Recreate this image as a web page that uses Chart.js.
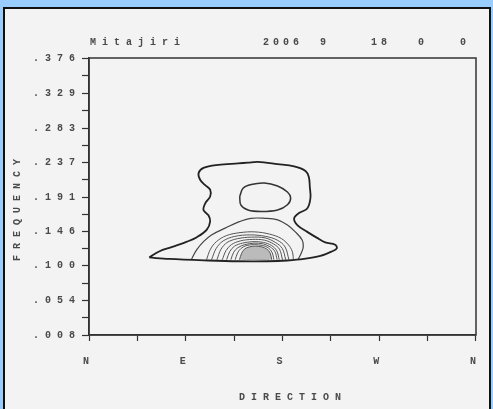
<!DOCTYPE html>
<html>
<head>
<meta charset="utf-8">
<script src="https://cdn.jsdelivr.net/npm/chart.js@4.4.1/dist/chart.umd.min.js"></script>
<style>
  html, body { margin: 0; padding: 0; background: #99ccff; }
  body { width: 493px; height: 409px; position: relative; overflow: hidden; }
  #panel { position: absolute; left: 3px; top: 7px; width: 484px; height: 410px; border: 2px solid #111; background: #f3f3f3; }
  #chart { position: absolute; left: 0; top: 0; }
</style>
</head>
<body>
<div id="panel"></div>
<canvas id="chart" width="493" height="409"></canvas>
<script>
// header text (station, year month day hour minute)
const headerTexts = ['Mitajiri', '2006', '9', '18', '0', '0'];

// direction axis (degrees)
const xMajor = [0, 90, 180, 270, 360];
const xLabels = ['N', 'E', 'S', 'W', 'N'];

// frequency axis
const yMajor = [0.008, 0.054, 0.100, 0.146, 0.191, 0.237, 0.283, 0.329, 0.376];
const yMinor = [0.031, 0.077, 0.123, 0.1685, 0.214, 0.260, 0.306, 0.3525];
const yLabels = ['.008', '.054', '.100', '.146', '.191', '.237', '.283', '.329', '.376'];

// contour lines [direction, frequency]
const contourOuter = [[56.0,0.111],[65.2,0.119],[77.4,0.125],[91.2,0.132],[100.4,0.138],[109.6,0.148],[112.7,0.159],[111.1,0.167],[106.5,0.174],[108.1,0.183],[112.7,0.192],[112.7,0.201],[108.1,0.207],[103.5,0.214],[101.9,0.223],[106.5,0.230],[120.3,0.234],[138.7,0.236],[147.9,0.237],[157.0,0.238],[175.4,0.235],[190.8,0.232],[201.4,0.226],[204.5,0.218],[205.4,0.205],[206.0,0.190],[203.0,0.176],[195.3,0.170],[190.8,0.163],[193.8,0.154],[203.0,0.145],[212.2,0.137],[219.8,0.131],[229.0,0.128],[230.5,0.123],[225.9,0.119],[215.2,0.113],[199.9,0.109],[184.6,0.107],[166.2,0.106],[138.7,0.106],[111.1,0.107],[74.4,0.109],[56.0,0.111]];
const contourIsland = [[140.2,0.192],[143.3,0.203],[150.9,0.208],[163.2,0.210],[175.4,0.206],[184.6,0.198],[187.6,0.190],[184.6,0.181],[175.4,0.174],[160.1,0.172],[147.9,0.174],[141.2,0.181],[140.2,0.192]];
const contour3 = [[95.5,0.109],[100.1,0.121],[106.5,0.132],[113.9,0.141],[126.7,0.150],[138.7,0.158],[150.6,0.163],[163.5,0.163],[175.4,0.161],[184.6,0.154],[191.9,0.145],[198.4,0.134],[199.3,0.125],[197.5,0.117],[194.7,0.109]];
const contour4 = [[109.3,0.108],[113.0,0.122],[118.5,0.132],[127.7,0.140],[140.5,0.144],[154.3,0.145],[168.1,0.142],[179.1,0.136],[186.5,0.126],[189.5,0.117],[190.0,0.108]];
const contour5 = [[114,0.108],[118.3,0.123],[124.8,0.133],[135.6,0.139],[150,0.141],[164.4,0.139],[175.2,0.134],[182.4,0.125],[186,0.108]];
const contour6 = [[119,0.108],[122.8,0.122],[128.6,0.131],[138.2,0.136],[151,0.138],[163.8,0.137],[173.4,0.131],[179.8,0.123],[183,0.108]];
const contour7 = [[124,0.108],[127.4,0.120],[132.4,0.128],[140.8,0.133],[152,0.135],[163.2,0.134],[171.6,0.129],[177.2,0.122],[180,0.108]];
const contour8 = [[128,0.108],[131,0.119],[135.4,0.126],[142.7,0.130],[152.5,0.132],[162.3,0.131],[169.7,0.127],[174.6,0.120],[177,0.108]];
const contour9 = [[132,0.108],[134.6,0.118],[138.5,0.124],[144.9,0.128],[153.5,0.130],[162.1,0.129],[168.6,0.125],[172.9,0.119],[175,0.108]];
const contour10 = [[136,0.108],[138.2,0.117],[141.4,0.123],[146.8,0.127],[154,0.128],[161.2,0.127],[166.6,0.124],[170.2,0.118],[172,0.108]];
const contour11 = [[140,0.108],[141.8,0.116],[144.5,0.122],[149,0.125],[155,0.126],[161,0.125],[165.5,0.122],[168.5,0.117],[170,0.108]];
const contour12 = [[144,0.108],[145.4,0.115],[147.5,0.120],[150.9,0.123],[155.5,0.124],[160.1,0.123],[163.6,0.120],[165.9,0.116],[167,0.108]];
const contour13 = [[148,0.108],[149,0.114],[150.4,0.118],[152.8,0.120],[156,0.121],[159.2,0.120],[161.6,0.118],[163.2,0.114],[164,0.108]];

const FONT = 'bold 10px "Liberation Mono", monospace';
const TEXT_COLOR = '#4a4a4a';

function line(data, width, color, fill) {
  return {
    data: data,
    showLine: true,
    borderColor: color,
    borderWidth: width,
    backgroundColor: fill || 'transparent',
    fill: fill ? 'shape' : false,
    pointRadius: 0,
    tension: 0.35
  };
}

const datasets = [
  line(contourOuter, 1.8, '#222'),
  line(contourIsland, 1.5, '#333'),
  line(contour3, 1.2, '#444'),
  line(contour4, 1, '#555'),
  line(contour5, 1, '#555'),
  line(contour6, 1, '#555'),
  line(contour7, 1, '#555'),
  line(contour8, 1, '#555'),
  line(contour9, 1, '#555'),
  line(contour10, 1, '#555'),
  line(contour11, 1, '#555', '#bbb'),
  line(contour12, 1, '#444', '#777'),
  line(contour13, 1, '#333', '#444'),
];

const decorPlugin = {
  id: 'decor',
  beforeDraw(chart) {
    chart.ctx.letterSpacing = '6px';
  },
  afterDraw(chart) {
    const ctx = chart.ctx;
    const a = chart.chartArea;
    ctx.save();
    ctx.letterSpacing = '0px';
    ctx.strokeStyle = '#333';
    ctx.lineWidth = 1.5;
    ctx.strokeRect(a.left, a.top, a.right - a.left, a.bottom - a.top);

    ctx.font = FONT;
    ctx.fillStyle = TEXT_COLOR;
    ctx.textBaseline = 'middle';
    ctx.textAlign = 'left';
    const hx = [90, 263, 320, 371, 418, 460];
    headerTexts.forEach((t, i) => {
      ctx.letterSpacing = i === 0 ? '6px' : '4px';
      ctx.fillText(t, hx[i], 42);
    });

    ctx.letterSpacing = '6px';
    ctx.textAlign = 'center';
    ctx.fillText('DIRECTION', 293, 397);

    ctx.translate(17, 207);
    ctx.rotate(-Math.PI / 2);
    ctx.fillText('FREQUENCY', 0, 0);
    ctx.restore();
    ctx.letterSpacing = '0px';
  }
};

new Chart(document.getElementById('chart'), {
  type: 'scatter',
  data: { datasets: datasets },
  plugins: [decorPlugin],
  options: {
    responsive: false,
    animation: false,
    layout: { padding: { left: 0, right: 12, top: 58, bottom: 0 } },
    plugins: {
      legend: { display: false },
      tooltip: { enabled: false },
      title: { display: false }
    },
    scales: {
      x: {
        type: 'linear',
        min: 0,
        max: 360,
        afterFit: (scale) => { scale.height = 74; },
        afterBuildTicks: (scale) => {
          scale.ticks = [0, 45, 90, 135, 180, 225, 270, 315, 360].map(v => ({ value: v }));
        },
        ticks: {
          autoSkip: false,
          maxRotation: 0,
          padding: 14,
          color: TEXT_COLOR,
          font: { family: '"Liberation Mono", monospace', size: 10, weight: 'bold' },
          callback: (v) => {
            const i = xMajor.indexOf(v);
            return i >= 0 ? xLabels[i] : '';
          }
        },
        grid: { drawOnChartArea: false, drawTicks: true, tickLength: 6, tickColor: '#333', tickWidth: 1.2 },
        border: { display: true, color: '#333', width: 1.5 }
      },
      y: {
        type: 'linear',
        min: 0.008,
        max: 0.376,
        afterFit: (scale) => { scale.width = 89; },
        afterBuildTicks: (scale) => {
          scale.ticks = yMajor.concat(yMinor).sort((p, q) => p - q).map(v => ({ value: v }));
        },
        ticks: {
          autoSkip: false,
          padding: 1,
          color: TEXT_COLOR,
          font: { family: '"Liberation Mono", monospace', size: 10, weight: 'bold' },
          callback: (v) => {
            const i = yMajor.indexOf(v);
            return i >= 0 ? yLabels[i] : '';
          }
        },
        grid: { drawOnChartArea: false, drawTicks: true, tickLength: 7, tickColor: '#333', tickWidth: 1.2 },
        border: { display: true, color: '#333', width: 1.5 }
      }
    }
  }
});
</script>
</body>
</html>
